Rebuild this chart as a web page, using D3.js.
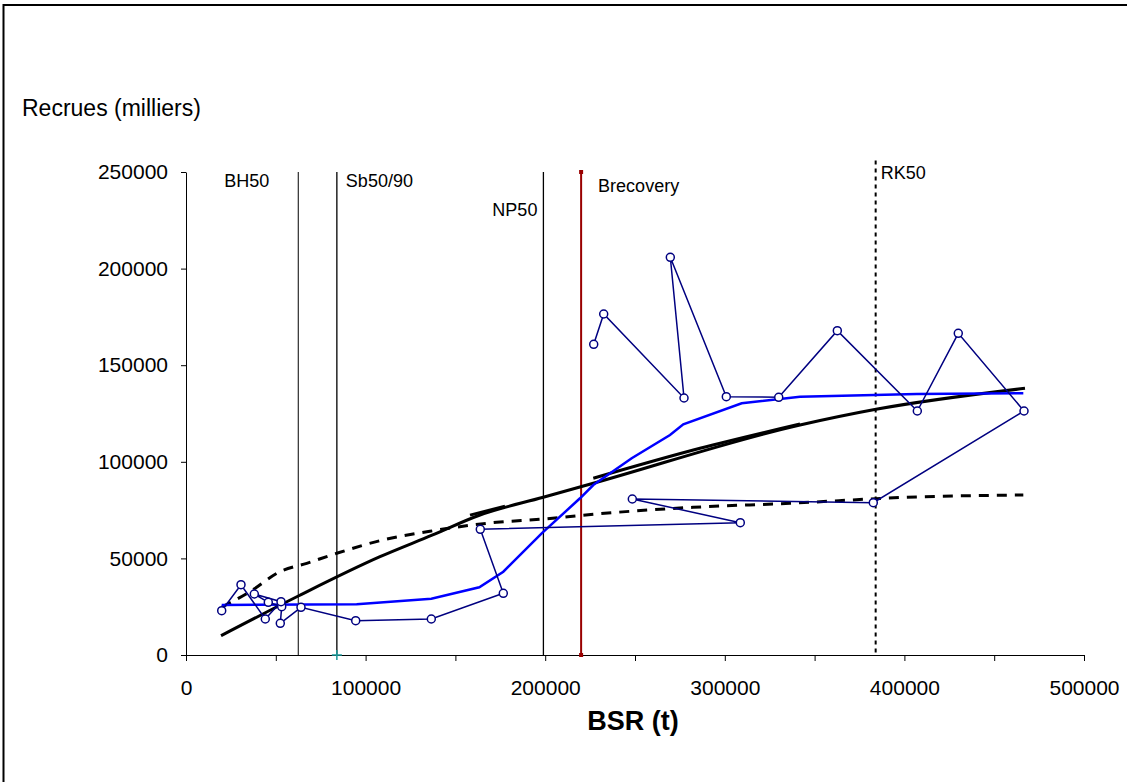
<!DOCTYPE html>
<html>
<head>
<meta charset="utf-8">
<script src="https://cdn.jsdelivr.net/npm/d3@7"></script>
<style>
	body { margin: 0; background: #fff; }
	text { font-family: "Liberation Sans", Arial, sans-serif; }
</style>
</head>
<body>
<div id="chart"></div>
<script>
// observed stock / recruitment pairs, in the order they are joined
let obsBSR = [227010, 232570, 277290, 269660, 300840, 330020, 362650, 407190, 430000, 466600,
	382680, 248500, 308630, 163860, 176670, 136580, 94490, 64030, 52500, 53290,
	45820, 38030, 52900, 44150, 30620, 19880];
let obsRec = [160820, 176500, 133030, 205850, 133700, 133390, 167860, 126300, 166500, 126300,
	78830, 80750, 68480, 65060, 31940, 18630, 17750, 24690, 16410, 25000,
	27280, 31570, 27590, 18630, 36390, 22930];

// smoothed curve (blue)
let smoothBSR = [19880, 95050, 136580, 163310, 176670, 198050, 219380, 226780, 248160, 269490, 276890, 309410, 341870, 406850, 466210];
let smoothRec = [25880, 26240, 29140, 35040, 43110, 62990, 81110, 87990, 101810, 113870, 119410, 130280, 133700, 135090, 135450];

// fitted curve, solid black
let fitBSR = [19490, 62530, 108020, 137000, 163700, 198940, 226780, 341870, 384190, 467150];
let fitRec = [9990, 30540, 50880, 62000, 72460, 81630, 88880, 119050, 127180, 138050];
// overlapping pieces of the same fit
let fit2BSR = [226780, 286190, 341870];
let fit2Rec = [91500, 107000, 119600];
let fit3BSR = [158130, 177620];
let fit3Rec = [72400, 77000];

// fitted curve, dashed black
let dashBSR = [20000, 35630, 52340, 67200, 83910, 108020, 137700, 172990, 197100, 228280, 282460, 336300, 401280, 466210];
let dashRec = [24840, 32760, 43120, 47460, 52640, 59160, 64340, 68690, 70240, 72980, 76450, 78520, 81630, 82820];

// reference points
let refNames = ["BH50", "Sb50/90", "NP50", "Brecovery", "RK50"];
let refValues = [62500, 84000, 199000, 220000, 384000];

let xTicks = d3.range(0, 500001, 50000);
let yTicks = d3.range(0, 250001, 50000);

var w = 1127,
	h = 782;

var svg = d3
	.select("#chart")
	.append("svg")
	.attr("width", w)
	.attr("height", h);

// frame around the chart
svg
	.append("rect")
	.attr("x", 3.5)
	.attr("y", 5)
	.attr("width", 1130)
	.attr("height", 785)
	.attr("fill", "none")
	.attr("stroke", "black")
	.attr("stroke-width", 2);

var xScale = d3.scaleLinear().domain([0, 500000]).range([186, 1084]);
var yScale = d3.scaleLinear().domain([0, 250000]).range([655, 172]);

var xAxis = d3
	.axisBottom(xScale)
	.tickValues(xTicks)
	.tickSize(6)
	.tickSizeOuter(0)
	.tickPadding(19)
	.tickFormat((d) => (d % 100000 === 0 ? d : ""));

var yAxis = d3
	.axisLeft(yScale)
	.tickValues(yTicks)
	.tickSize(5)
	.tickSizeOuter(0)
	.tickPadding(13)
	.tickFormat((d) => d);

let gx = svg.append("g").attr("transform", "translate(0," + yScale(0) + ")").call(xAxis);
let gy = svg.append("g").attr("transform", "translate(" + xScale(0) + ",0)").call(yAxis);

[gx, gy].forEach(function (g) {
	g.selectAll("text").attr("font-size", 21).attr("fill", "black");
	g.selectAll("line").attr("stroke", "black");
	g.select(".domain").attr("stroke", "black");
});

// axis titles
svg
	.append("text")
	.attr("x", 22)
	.attr("y", 116)
	.attr("font-size", 23)
	.text("Recrues (milliers)");

svg
	.append("text")
	.attr("x", 633)
	.attr("y", 730)
	.attr("text-anchor", "middle")
	.attr("font-size", 27)
	.attr("font-weight", "bold")
	.text("BSR (t)");

// reference lines
let refStyle = [
	{ color: "black", width: 1, dash: null, top: 250000, lx: -74, ly: 187, anchor: "start" },
	{ color: "black", width: 1.3, dash: null, top: 250000, lx: 9, ly: 187, anchor: "start" },
	{ color: "black", width: 1.3, dash: null, top: 250000, lx: -6, ly: 216, anchor: "end" },
	{ color: "#990000", width: 2, dash: null, top: 250000, lx: 17, ly: 192, anchor: "start" },
	{ color: "black", width: 2, dash: "4,4", top: 256000, lx: 5, ly: 179, anchor: "start" },
];

refValues.forEach(function (v, i) {
	let s = refStyle[i];
	svg
		.append("line")
		.attr("x1", xScale(v))
		.attr("x2", xScale(v))
		.attr("y1", yScale(s.top))
		.attr("y2", yScale(0))
		.attr("stroke", s.color)
		.attr("stroke-width", s.width)
		.attr("stroke-dasharray", s.dash);
	svg
		.append("text")
		.attr("x", xScale(v) + s.lx)
		.attr("y", s.ly)
		.attr("text-anchor", s.anchor)
		.attr("font-size", 18)
		.text(refNames[i]);
});

// small markers on Brecovery line
[250000, 0].forEach(function (v) {
	svg
		.append("rect")
		.attr("x", xScale(refValues[3]) - 2)
		.attr("y", yScale(v) - 2)
		.attr("width", 4)
		.attr("height", 4)
		.attr("fill", "#990000");
});

// teal cross at Sb50/90
svg
	.append("path")
	.attr("d", "M" + (xScale(refValues[1]) - 5) + "," + yScale(0) + "h10M" + xScale(refValues[1]) + "," + (yScale(0) - 5) + "v10")
	.attr("stroke", "#1a9a9a")
	.attr("stroke-width", 1.5);

var line = d3
	.line()
	.x((d) => xScale(d[0]))
	.y((d) => yScale(d[1]));

function pairs(xs, ys) {
	return xs.map((x, i) => [x, ys[i]]);
}

// dashed fit
svg
	.append("path")
	.datum(pairs(dashBSR, dashRec))
	.attr("d", line.curve(d3.curveMonotoneX))
	.attr("fill", "none")
	.attr("stroke", "black")
	.attr("stroke-width", 3)
	.attr("stroke-dasharray", "10,8");

// solid fit
[pairs(fitBSR, fitRec), pairs(fit2BSR, fit2Rec), pairs(fit3BSR, fit3Rec)].forEach(function (p) {
	svg
		.append("path")
		.datum(p)
		.attr("d", line.curve(d3.curveMonotoneX))
		.attr("fill", "none")
		.attr("stroke", "black")
		.attr("stroke-width", 3);
});

// smoothed line
svg
	.append("path")
	.datum(pairs(smoothBSR, smoothRec))
	.attr("d", line.curve(d3.curveLinear))
	.attr("fill", "none")
	.attr("stroke", "#0000ff")
	.attr("stroke-width", 2.5);

// observations
let obs = pairs(obsBSR, obsRec);

svg
	.append("path")
	.datum(obs)
	.attr("d", line.curve(d3.curveLinear))
	.attr("fill", "none")
	.attr("stroke", "#000080")
	.attr("stroke-width", 1.5);

svg
	.append("g")
	.selectAll("circle")
	.data(obs)
	.enter()
	.append("circle")
	.attr("cx", (d) => xScale(d[0]))
	.attr("cy", (d) => yScale(d[1]))
	.attr("r", 4)
	.attr("fill", "white")
	.attr("stroke", "#000080")
	.attr("stroke-width", 1.5);
</script>
</body>
</html>
